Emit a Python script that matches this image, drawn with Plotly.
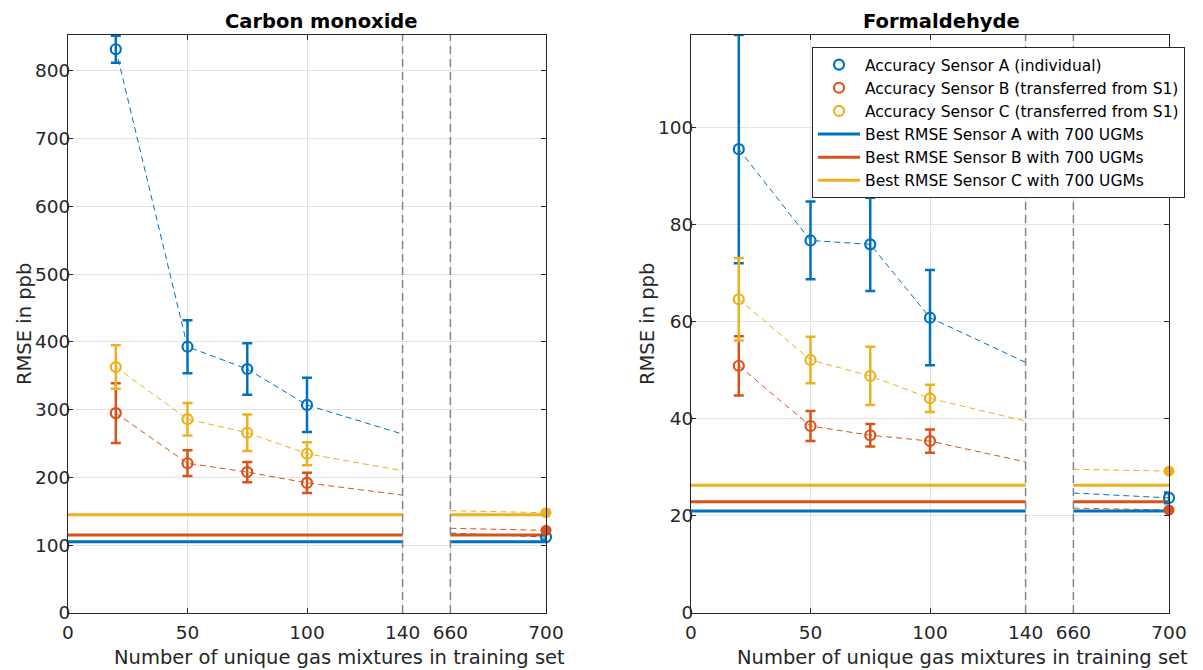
import plotly.graph_objects as go

# ---------------- data ----------------
x_pts = [20, 50, 75, 100]
x_trend = [20, 50, 75, 100, 140, None, 660, 700]
x_best = [0, 140, None, 660, 700]
x_final = [700]
break_edges = [140, 660]
x_tickvals = [0, 50, 100, 140, 660, 700]
x_ticktext = ["0", "50", "100", "140", "660", "700"]

acc_names = ["Accuracy Sensor A (individual)",
             "Accuracy Sensor B (transferred from S1)",
             "Accuracy Sensor C (transferred from S1)"]
best_names = ["Best RMSE Sensor A with 700 UGMs",
              "Best RMSE Sensor B with 700 UGMs",
              "Best RMSE Sensor C with 700 UGMs"]

# Carbon monoxide
co_A = [832, 393, 360, 307]
co_A_err = [20, 39, 38, 40]
co_B = [295, 221, 208, 192]
co_B_err = [44, 19, 15, 15]
co_C = [363, 286, 266, 235]
co_C_err = [32, 24, 27, 17]
co_trend_A = [832, 393, 360, 307, 264, None, 118, 112]
co_trend_B = [295, 221, 208, 192, 174, None, 125, 122]
co_trend_C = [363, 286, 266, 235, 210, None, 151, 148]
co_final = [112, 122, 148]
co_final_err = [4, 0, 0]
co_best = [105, 115, 145]

# Formaldehyde
hc_A = [95.5, 76.7, 75.9, 60.8]
hc_A_err = [23.5, 8.0, 9.6, 9.8]
hc_B = [50.9, 38.5, 36.6, 35.4]
hc_B_err = [6.1, 3.1, 2.3, 2.4]
hc_C = [64.6, 52.1, 48.8, 44.2]
hc_C_err = [8.5, 4.8, 6.0, 2.8]
hc_trend_A = [95.5, 76.7, 75.9, 60.8, 51.6, None, 24.7, 23.7]
hc_trend_B = [50.9, 38.5, 36.6, 35.4, 31.1, None, 21.6, 21.2]
hc_trend_C = [64.6, 52.1, 48.8, 44.2, 39.5, None, 29.6, 29.2]
hc_final = [23.7, 21.2, 29.2]
hc_final_err = [1.1, 0, 0]
hc_best = [21.0, 22.9, 26.3]

colors = ["#0072BD", "#D95319", "#EDB120"]
TXT = "#262626"
FONT = "DejaVu Sans"

W, H = 1203, 670
OFF = 8  # page body margin offset of the figure in the browser


def px(X):
    return (X - OFF) / W


def py(Y):
    return 1 - (Y - OFF) / H


def brk(x):
    """Map broken x-axis (0..140 | 660..700) onto a continuous scale."""
    if x is None:
        return None
    return x if x <= 140 else x - 500


def brk_list(xs):
    return [brk(v) for v in xs]


panels = [
    dict(xa="x", ya="y", vals=[co_A, co_B, co_C], errs=[co_A_err, co_B_err, co_C_err],
         trends=[co_trend_A, co_trend_B, co_trend_C], final=co_final, final_err=co_final_err,
         best=co_best, legend=False),
    dict(xa="x2", ya="y2", vals=[hc_A, hc_B, hc_C], errs=[hc_A_err, hc_B_err, hc_C_err],
         trends=[hc_trend_A, hc_trend_B, hc_trend_C], final=hc_final, final_err=hc_final_err,
         best=hc_best, legend=True),
]

fig = go.Figure()

for p in panels:
    # dashed trend lines
    for i in range(3):
        fig.add_trace(go.Scatter(
            x=brk_list(x_trend), y=p["trends"][i], mode="lines",
            line=dict(color=colors[i], width=1, dash="6px,4px"),
            connectgaps=False, showlegend=False, hoverinfo="skip",
            xaxis=p["xa"], yaxis=p["ya"]))
    # best RMSE lines
    for i in range(3):
        fig.add_trace(go.Scatter(
            x=brk_list(x_best), y=[p["best"][i], p["best"][i], None, p["best"][i], p["best"][i]],
            mode="lines", line=dict(color=colors[i], width=3),
            connectgaps=False, name=best_names[i], showlegend=p["legend"],
            legendrank=4 + i, xaxis=p["xa"], yaxis=p["ya"]))
    # accuracy points with error bars
    for i in range(3):
        fig.add_trace(go.Scatter(
            x=brk_list(x_pts), y=p["vals"][i], mode="markers",
            marker=dict(symbol="circle-open", size=10, color=colors[i],
                        line=dict(width=2.2, color=colors[i])),
            error_y=dict(type="data", array=p["errs"][i], visible=True,
                         color=colors[i], thickness=2.5, width=5),
            name=acc_names[i], showlegend=p["legend"], legendrank=1 + i,
            xaxis=p["xa"], yaxis=p["ya"]))
    # final points at 700
    for i in range(3):
        if i == 0:
            mk = dict(symbol="circle-open", size=10, color=colors[i],
                      line=dict(width=2.2, color=colors[i]))
            ey = dict(type="data", array=[p["final_err"][i]], visible=True,
                      color=colors[i], thickness=2.5, width=5)
        else:
            mk = dict(symbol="circle", size=11, color=colors[i],
                      line=dict(width=0))
            ey = None
        fig.add_trace(go.Scatter(
            x=brk_list(x_final), y=[p["final"][i]], mode="markers",
            marker=mk, error_y=ey, cliponaxis=False, showlegend=False,
            xaxis=p["xa"], yaxis=p["ya"]))

# break markers (vertical dashed lines)
for xa in ["x", "x2"]:
    for e in break_edges:
        fig.add_shape(type="line", xref=xa, yref=("y domain" if xa == "x" else "y2 domain"),
                      x0=brk(e), x1=brk(e), y0=0, y1=1,
                      line=dict(color="#858585", width=1.5, dash="8px,5px"), layer="above")

dom_left = [px(68), px(546)]
dom_right = [px(691), px(1169)]
dom_y = [py(613), py(35)]

common_x = dict(
    range=[0, 200], tickmode="array", tickvals=brk_list(x_tickvals), ticktext=x_ticktext,
    showgrid=True, gridcolor="#e3e3e3", gridwidth=1, zeroline=False,
    showline=True, linecolor=TXT, linewidth=1, mirror="ticks",
    ticks="inside", ticklen=5, tickcolor=TXT, tickwidth=1, automargin=False,
    tickfont=dict(family=FONT, size=18.5, color=TXT), ticklabelstandoff=3,
)
common_y = dict(
    showgrid=True, gridcolor="#e3e3e3", gridwidth=1, zeroline=False,
    showline=True, linecolor=TXT, linewidth=1, mirror="ticks",
    ticks="inside", ticklen=5, tickcolor=TXT, tickwidth=1, automargin=False,
    tickfont=dict(family=FONT, size=18.5, color=TXT), ticklabelstandoff=-7,
)

fig.update_layout(
    width=W, height=H,
    margin=dict(l=0, r=0, t=0, b=0, autoexpand=False),
    paper_bgcolor="white", plot_bgcolor="white",
    font=dict(family=FONT, color=TXT),
    xaxis=dict(domain=dom_left, anchor="y", **common_x),
    yaxis=dict(domain=dom_y, anchor="x", range=[0, 853], tick0=0, dtick=100, **common_y),
    xaxis2=dict(domain=dom_right, anchor="y2", **common_x),
    yaxis2=dict(domain=dom_y, anchor="x2", range=[0, 119], tick0=0, dtick=20, **common_y),
    legend=dict(x=px(812), y=py(47), xanchor="left", yanchor="top",
                bgcolor="white", bordercolor=TXT, borderwidth=1,
                font=dict(family=FONT, size=15.5, color="#000000"),
                itemwidth=42, tracegroupgap=0),
    showlegend=True,
)

annots = [
    dict(text="<b>Carbon monoxide</b>", x=px(321), y=py(21), size=19.5),
    dict(text="<b>Formaldehyde</b>", x=px(941), y=py(21), size=19.5),
    dict(text="Number of unique gas mixtures in training set", x=px(339), y=py(657), size=19.5),
    dict(text="Number of unique gas mixtures in training set", x=px(962), y=py(657), size=19.5),
]
for a in annots:
    fig.add_annotation(text=a["text"], x=a["x"], y=a["y"], xref="paper", yref="paper",
                       xanchor="center", yanchor="middle", showarrow=False,
                       font=dict(family=FONT, size=a["size"], color="#000000" if "<b>" in a["text"] else TXT))
for X in [24, 647]:
    fig.add_annotation(text="RMSE in ppb", x=px(X), y=py(324), xref="paper", yref="paper",
                       xanchor="center", yanchor="middle", showarrow=False, textangle=-90,
                       font=dict(family=FONT, size=19.5, color=TXT))

fig.write_html("out.html")
